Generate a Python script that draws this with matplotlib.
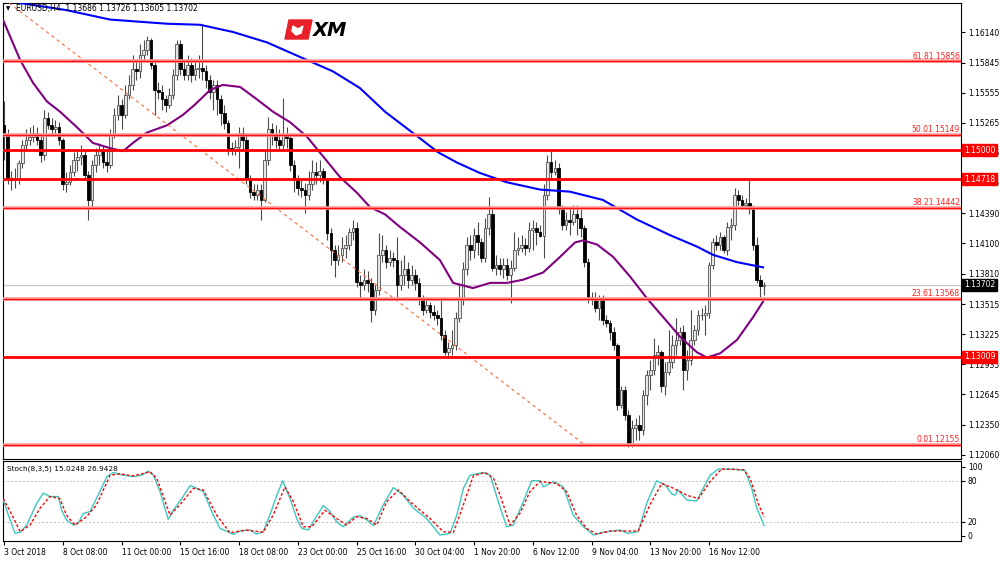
import numpy as np
import matplotlib.pyplot as plt
import matplotlib.transforms as mtransforms
from matplotlib.patches import Polygon

plt.rcParams['font.family'] = 'DejaVu Sans'
plt.rcParams['font.size'] = 5.5

# EURUSD H4 candles (bar index 0 = 3 Oct 2018 16:00)
open_first = 1.1524
closes = [
    1.1515, 1.1473, 1.1471, 1.1473, 1.1488, 1.1505, 1.1510, 1.1513, 1.1517, 1.1510,
    1.1495, 1.1531, 1.1524, 1.1520, 1.1522, 1.1510, 1.1467, 1.1469, 1.1479, 1.1491,
    1.1493, 1.1495, 1.1476, 1.1452, 1.1486, 1.1495, 1.1500, 1.1489, 1.1486, 1.1515,
    1.1534, 1.1544, 1.1534, 1.1553, 1.1563, 1.1578, 1.1576, 1.1592, 1.1597, 1.1606,
    1.1582, 1.1558, 1.1556, 1.1549, 1.1544, 1.1553, 1.1573, 1.1602, 1.1578, 1.1573,
    1.1582, 1.1573, 1.1578, 1.1579, 1.1576, 1.1568, 1.1556, 1.1563, 1.1549, 1.1536,
    1.1526, 1.1502, 1.1500, 1.1503, 1.1517, 1.1510, 1.1473, 1.1460, 1.1457, 1.1462,
    1.1452, 1.1491, 1.1520, 1.1515, 1.1510, 1.1505, 1.1515, 1.1512, 1.1486, 1.1471,
    1.1464, 1.1462, 1.1457, 1.1467, 1.1479, 1.1476, 1.1480, 1.1471, 1.1420, 1.1404,
    1.1394, 1.1399, 1.1406, 1.1409, 1.1421, 1.1425, 1.1373, 1.1370, 1.1375, 1.1372,
    1.1346, 1.1365, 1.1399, 1.1404, 1.1392, 1.1396, 1.1394, 1.1370, 1.1380, 1.1385,
    1.1375, 1.1380, 1.1372, 1.1356, 1.1346, 1.1351, 1.1344, 1.1341, 1.1338, 1.1322,
    1.1305, 1.1309, 1.1312, 1.1338, 1.1356, 1.1385, 1.1409, 1.1404, 1.1418, 1.1411,
    1.1396, 1.1425, 1.1438, 1.1386, 1.1389, 1.1385, 1.1389, 1.1380, 1.1386, 1.1404,
    1.1406, 1.1409, 1.1406, 1.1423, 1.1425, 1.1421, 1.1417, 1.1457, 1.1489, 1.1479,
    1.1483, 1.1443, 1.1428, 1.1433, 1.1431, 1.1438, 1.1435, 1.1425, 1.1392, 1.1358,
    1.1357, 1.1348, 1.1356, 1.1336, 1.1333, 1.1325, 1.1312, 1.1254, 1.1269, 1.1245,
    1.1216, 1.1232, 1.1235, 1.1230, 1.1264, 1.1283, 1.1288, 1.1302, 1.1305, 1.1273,
    1.1286, 1.1296, 1.1312, 1.1317, 1.1325, 1.1288, 1.1298, 1.1317, 1.1327, 1.1341,
    1.1341, 1.1343, 1.1389, 1.1411, 1.1409, 1.1416, 1.1404, 1.1426, 1.1428, 1.1457,
    1.1452, 1.1447, 1.1449, 1.1443, 1.1409, 1.1375, 1.13686, 1.13702,
]
highs = [
    1.1547, 1.1520, 1.1480, 1.1483, 1.1491, 1.1510, 1.1520, 1.1522, 1.1524, 1.1522,
    1.1514, 1.1539, 1.1537, 1.1531, 1.1529, 1.1527, 1.1512, 1.1479, 1.1486, 1.1498,
    1.1500, 1.1505, 1.1500, 1.1480, 1.1491, 1.1502, 1.1507, 1.1505, 1.1500, 1.1520,
    1.1541, 1.1553, 1.1549, 1.1563, 1.1573, 1.1592, 1.1587, 1.1602, 1.1606, 1.1610,
    1.1608, 1.1587, 1.1566, 1.1563, 1.1553, 1.1560, 1.1578, 1.1606, 1.1606, 1.1587,
    1.1592, 1.1589, 1.1587, 1.1592, 1.1621, 1.1582, 1.1573, 1.1568, 1.1568, 1.1553,
    1.1544, 1.1529, 1.1508, 1.1510, 1.1522, 1.1522, 1.1515, 1.1476, 1.1467, 1.1467,
    1.1467, 1.1500, 1.1532, 1.1526, 1.1524, 1.1520, 1.1550, 1.1522, 1.1517, 1.1491,
    1.1476, 1.1471, 1.1468, 1.1480, 1.1491, 1.1489, 1.1491, 1.1483, 1.1473, 1.1425,
    1.1409, 1.1409, 1.1416, 1.1418, 1.1425, 1.1433, 1.1431, 1.1380, 1.1385, 1.1383,
    1.1377, 1.1370, 1.1420, 1.1418, 1.1409, 1.1404, 1.1402, 1.1416, 1.1394, 1.1399,
    1.1392, 1.1389, 1.1385, 1.1377, 1.1360, 1.1356, 1.1354, 1.1351, 1.1346, 1.1356,
    1.1327, 1.1315, 1.1327, 1.1344, 1.1370, 1.1392, 1.1416, 1.1418, 1.1425, 1.1431,
    1.1415, 1.1435, 1.1455, 1.1443, 1.1399, 1.1396, 1.1396, 1.1396, 1.1394, 1.1421,
    1.1416, 1.1418, 1.1415, 1.1431, 1.1433, 1.1431, 1.1428, 1.1467, 1.1495, 1.1500,
    1.1491, 1.1488, 1.1447, 1.1440, 1.1443, 1.1447, 1.1447, 1.1443, 1.1428, 1.1396,
    1.1363, 1.1363, 1.1360, 1.1360, 1.1341, 1.1336, 1.1329, 1.1314, 1.1273, 1.1273,
    1.1249, 1.1240, 1.1242, 1.1245, 1.1269, 1.1288, 1.1298, 1.1319, 1.1312, 1.1307,
    1.1296, 1.1327, 1.1322, 1.1338, 1.1329, 1.1331, 1.1307, 1.1346, 1.1331, 1.1346,
    1.1348, 1.1351, 1.1392, 1.1415, 1.1418, 1.1421, 1.1418, 1.1431, 1.1435, 1.1464,
    1.1462, 1.1457, 1.1454, 1.1471, 1.1447, 1.1416, 1.1380, 1.13726,
]
lows = [
    1.1491, 1.1467, 1.1462, 1.1464, 1.1467, 1.1483, 1.1500, 1.1505, 1.1508, 1.1505,
    1.1489, 1.1491, 1.1520, 1.1514, 1.1515, 1.1505, 1.1462, 1.1460, 1.1466, 1.1475,
    1.1480, 1.1486, 1.1471, 1.1433, 1.1445, 1.1479, 1.1486, 1.1483, 1.1479, 1.1483,
    1.1512, 1.1529, 1.1520, 1.1531, 1.1549, 1.1558, 1.1568, 1.1570, 1.1587, 1.1592,
    1.1578, 1.1534, 1.1549, 1.1539, 1.1537, 1.1541, 1.1549, 1.1568, 1.1573, 1.1568,
    1.1568, 1.1566, 1.1568, 1.1570, 1.1568, 1.1560, 1.1549, 1.1539, 1.1534, 1.1524,
    1.1520, 1.1495, 1.1495, 1.1495, 1.1483, 1.1500, 1.1467, 1.1454, 1.1452, 1.1452,
    1.1433, 1.1450, 1.1486, 1.1505, 1.1502, 1.1500, 1.1500, 1.1502, 1.1480, 1.1460,
    1.1457, 1.1455, 1.1439, 1.1452, 1.1462, 1.1467, 1.1469, 1.1467, 1.1413, 1.1389,
    1.1378, 1.1389, 1.1392, 1.1396, 1.1404, 1.1413, 1.1368, 1.1356, 1.1365, 1.1363,
    1.1334, 1.1341, 1.1360, 1.1392, 1.1386, 1.1388, 1.1387, 1.1358, 1.1365, 1.1370,
    1.1367, 1.1370, 1.1365, 1.1351, 1.1341, 1.1343, 1.1338, 1.1336, 1.1331, 1.1317,
    1.1302, 1.1300, 1.1302, 1.1307, 1.1334, 1.1351, 1.1380, 1.1394, 1.1396, 1.1399,
    1.1392, 1.1392, 1.1418, 1.1383, 1.1380, 1.1380, 1.1377, 1.1375, 1.1353, 1.1383,
    1.1399, 1.1402, 1.1399, 1.1402, 1.1404, 1.1409, 1.1416, 1.1396, 1.1452, 1.1473,
    1.1476, 1.1438, 1.1423, 1.1423, 1.1418, 1.1428, 1.1418, 1.1416, 1.1387, 1.1353,
    1.1351, 1.1344, 1.1336, 1.1331, 1.1329, 1.1317, 1.1307, 1.1249, 1.1251, 1.1240,
    1.1214, 1.1214, 1.1220, 1.1220, 1.1225, 1.1254, 1.1269, 1.1283, 1.1293, 1.1267,
    1.1264, 1.1283, 1.1290, 1.1302, 1.1312, 1.1269, 1.1278, 1.1293, 1.1312, 1.1322,
    1.1336, 1.1322, 1.1338, 1.1385, 1.1404, 1.1404, 1.1401, 1.1399, 1.1413, 1.1423,
    1.1447, 1.1443, 1.1443, 1.1438, 1.1404, 1.1372, 1.1358, 1.13605,
]

# moving averages (bar index, price)
ma_slow_bar = [4.4, 17.2, 28.9, 44.4, 53.4, 62.4, 71.6, 82.5, 89.6, 96.9, 103.8, 113.8, 118.2,
               123.4, 129.6, 137, 146, 154.1, 163.1, 172.4, 181.4, 188.7, 193.1, 199.6, 206.7]
ma_slow = [1.1642, 1.1635, 1.1626, 1.1622, 1.1621, 1.1614, 1.1604, 1.1587, 1.1576, 1.1560, 1.1537,
           1.1510, 1.1498, 1.1488, 1.1478, 1.1469, 1.1462, 1.1460, 1.1452, 1.1433, 1.1418, 1.1407,
           1.1399, 1.1392, 1.1387]
ma_fast_bar = [-0.3, 4.4, 7.9, 11.7, 15.3, 19.9, 24.2, 28.9, 32.4, 35.1, 38.9, 44.4, 48.7, 52, 56.1,
               59.6, 64.3, 68.9, 73.3, 77.9, 82.5, 86.9, 91.5, 96.1, 99.7, 103.8, 107.8, 113.3, 118.7,
               122.3, 127.7, 132.4, 137, 141.3, 146.8, 151.4, 155.5, 157.7, 161.5, 165.9, 170.5,
               175.1, 179.5, 184.1, 188.7, 191.4, 195, 199.6, 204, 206.7]
ma_fast = [1.1626, 1.1587, 1.1565, 1.1547, 1.1537, 1.1522, 1.1507, 1.1502, 1.1499, 1.1507, 1.1517,
           1.1524, 1.1534, 1.1544, 1.1558, 1.1563, 1.1561, 1.1549, 1.1537, 1.1527, 1.1513, 1.1494,
           1.1474, 1.1459, 1.1445, 1.1438, 1.1426, 1.1411, 1.1394, 1.1372, 1.1367, 1.1372, 1.1372,
           1.1375, 1.1382, 1.1397, 1.1411, 1.1413, 1.1409, 1.1397, 1.1378, 1.1357, 1.1339, 1.1320,
           1.1305, 1.1300, 1.1304, 1.1317, 1.1339, 1.1354]

# Fibonacci retracement (0% -> 100%) and drawn levels
fib_start_bar, fib_start_price = -62.0, 1.18144
fib_end_bar, fib_end_price = 158.2, 1.12155
fib_levels = [1.15856, 1.15149, 1.14442, 1.13568, 1.12155]
fib_labels = ['61.81.15856', '50.01.15149', '38.21.14442', '23.61.13568', '0.01.12155']
hlines = [1.15000, 1.14718, 1.13009]
last_price = 1.13702

price_ticks = [1.16140, 1.15845, 1.15555, 1.15265, 1.14975, 1.14685, 1.14390, 1.14100,
               1.13810, 1.13515, 1.13225, 1.12935, 1.12645, 1.12350, 1.12060]

# Stochastic (8,3,5)
k_bar = [-0.2, 1.2, 3, 4.4, 6.2, 8.9, 10.7, 12.5, 14.8, 15.7, 17, 18.9, 20.2, 21.6, 23.4, 26.1, 28,
         29.8, 32.5, 35.2, 37.5, 39.3, 40.7, 42.5, 44.7, 46.1, 48.4, 50.7, 52.5, 54.3, 57, 58.8,
         62.4, 64.3, 67, 68.8, 70.6, 72.4, 74.3, 75.9, 77.9, 79.7, 81.1, 82.9, 84.7, 87, 88.8,
         90.6, 92.4, 95.1, 97, 98.8, 100.6, 103.3, 106, 108.7, 111.5, 115.1, 118.7, 121.5, 123.3,
         125.1, 126.9, 130.5, 132.4, 135.1, 136.9, 138.7, 141.4, 143.7, 146, 146.9, 149.6, 152.3,
         155, 157.8, 160.5, 163.2, 167.8, 170, 172.7, 175, 177.7, 180, 181.8, 182.7, 183.6, 185.9,
         188.6, 190.4, 192.3, 194.5, 198.6, 201.8, 203.6, 205, 207]
k_val = [52, 30, 3.4, 5, 15.5, 47, 62, 57, 57, 37, 23, 15.5, 18, 32.5, 35, 64, 86, 92, 88, 86, 88,
         94, 88, 64, 24, 37, 54, 73, 69, 64, 30, 10.7, 2, 6.8, 8.3, 2.4, 5.8, 30, 59, 80, 54, 25,
         10.7, 8.3, 25, 44, 35, 20, 13, 27, 29, 23, 14.6, 45, 70, 59, 40, 25, 1, 3.4, 30, 69, 88,
         92, 88, 41, 13, 15.5, 49.5, 80, 80, 71, 79, 71, 30, 13, 1, 5, 8.3, 3.4, 5.8, 47, 80, 74,
         61, 59, 66.5, 52, 50.5, 69, 88, 97, 97, 95, 69, 40, 15]
d_bar = [-0.2, 2.2, 4.4, 7.1, 9.8, 12.5, 15.2, 17, 19.3, 22.5, 25.2, 28.9, 31.6, 35.2, 39.8, 41.6,
         45.2, 47.9, 51.6, 54.3, 57.9, 61.5, 66.1, 70.6, 73.3, 76.5, 78.8, 81.5, 83.8, 87.4, 90.6,
         93.3, 96, 98.8, 101.5, 104.2, 107.4, 110.6, 116, 119.6, 122.4, 125.1, 127.8, 131, 133.3,
         135.1, 137.8, 140.5, 143.2, 146, 150.5, 153.2, 155.9, 158.6, 161.4, 165, 169.5, 172.7,
         175.9, 179.1, 182.3, 185.9, 189.1, 192.3, 195.4, 201.4, 203.2, 205.5, 207]
d_val = [54, 30, 5.8, 15.5, 40, 57, 54, 30, 15.5, 27.7, 45, 88, 90, 87, 93, 83.5, 30, 45, 69, 66.5,
         30, 4.4, 8.3, 5, 30, 71, 49.5, 13, 13, 37, 25, 15.5, 27.7, 25, 15.5, 49.5, 66.5, 49.5, 25,
         5.8, 5, 45, 87, 92, 83.5, 59, 15.5, 32.5, 64, 79, 76, 64, 30, 10.7, 2.4, 6.8, 6.8, 6.8,
         45, 76, 69, 59, 54, 79, 97, 96, 83.5, 45, 27]

date_bars = [0, 16, 32, 48, 64, 80, 96, 112, 128, 144, 160, 176, 192]
date_labels = ['3 Oct 2018', '8 Oct 08:00', '11 Oct 00:00', '15 Oct 16:00', '18 Oct 08:00',
               '23 Oct 00:00', '25 Oct 16:00', '30 Oct 04:00', '1 Nov 20:00', '6 Nov 12:00',
               '9 Nov 04:00', '13 Nov 20:00', '16 Nov 12:00']

W, H = 1000, 561
fig = plt.figure(figsize=(10, 5.61), dpi=100)
ax = fig.add_axes([3 / W, 1 - 459 / H, 958 / W, 456 / H])
ax2 = fig.add_axes([3 / W, 1 - 541 / H, 958 / W, 80 / H])

xlim = (-0.27, 260.6)
ax.set_xlim(*xlim)
ax.set_ylim(1.12021, 1.16420)

# candles
o = np.array([open_first] + closes[:-1])
c = np.array(closes)
idx = np.arange(len(c))
up = c >= o
ax.vlines(idx, lows, highs, color='#4a4a4a', lw=0.8, zorder=3)
ax.bar(idx[up], (c - o)[up], bottom=o[up], width=0.72, color='#E6E6E6',
       edgecolor='#505050', lw=0.6, zorder=4)
ax.bar(idx[~up], (o - c)[~up], bottom=c[~up], width=0.72, color='black',
       edgecolor='black', lw=0.6, zorder=4)

# moving averages
ax.plot(ma_slow_bar, ma_slow, color='#0000FF', lw=1.5, zorder=5)
ax.plot(ma_fast_bar, ma_fast, color='#800080', lw=1.5, zorder=5)

# last price line
ax.axhline(last_price, color='#C8C8C8', lw=0.9, zorder=2)

# fib trend line
ax.plot([fib_start_bar, fib_end_bar], [fib_start_price, fib_end_price], color='#FF6A3D',
        lw=0.8, dashes=(3, 3), zorder=6)

blend = mtransforms.blended_transform_factory(ax.transAxes, ax.transData)
for lvl, lab in zip(fib_levels, fib_labels):
    ax.axhline(lvl, color='#FF9A9A', lw=2.6, zorder=6)
    ax.axhline(lvl, color='#FF1010', lw=1.0, zorder=6)
    ax.text(0.999, lvl + 0.00006, lab, transform=blend, ha='right', va='bottom',
            color='#FF2020', fontsize=5.5, zorder=7)
for lvl in hlines:
    ax.axhline(lvl, color='#FF0000', lw=2.0, zorder=6)
    ax.text(1 + 3 / 958, lvl, f'{lvl:.5f}', transform=blend, ha='left', va='center',
            color='white', fontsize=5.5, zorder=10, clip_on=False,
            bbox=dict(boxstyle='square,pad=0.2', facecolor='#FF0000', edgecolor='#FF0000'))
ax.text(1 + 3 / 958, last_price, f'{last_price:.5f}', transform=blend, ha='left', va='center',
        color='white', fontsize=5.5, zorder=10, clip_on=False,
        bbox=dict(boxstyle='square,pad=0.2', facecolor='black', edgecolor='black'))

ax.yaxis.tick_right()
ax.set_yticks(price_ticks)
ax.set_yticklabels([f'{t:.5f}' for t in price_ticks])
ax.tick_params(axis='y', length=3, width=0.8, pad=2, labelsize=5.5)
ax.set_xticks([])
for s in ax.spines.values():
    s.set_linewidth(0.8)
    s.set_color('black')

# stochastic panel
ax2.set_xlim(*xlim)
ax2.set_ylim(-7.7, 108.7)
for lvl in (20, 80):
    ax2.axhline(lvl, color='#C0C0C0', lw=0.7, dashes=(2, 2), zorder=1)
ax2.plot(k_bar, k_val, color='#3CC8C0', lw=1.0, zorder=3)
ax2.plot(d_bar, d_val, color='#FF0000', lw=1.0, dashes=(2, 1.5), zorder=4)
ax2.yaxis.tick_right()
ax2.set_yticks([0, 20, 80, 100])
ax2.set_yticklabels(['0', '20', '80', '100'])
ax2.tick_params(axis='y', length=3, width=0.8, pad=2, labelsize=5.5)
ax2.set_xticks(date_bars)
ax2.set_xticklabels(date_labels)
ax2.tick_params(axis='x', length=3, width=0.8, pad=2, labelsize=5.5)
for lab in ax2.get_xticklabels():
    lab.set_ha('left')
for s in ax2.spines.values():
    s.set_linewidth(0.8)
    s.set_color('black')

# header texts
fig.text(6 / W, 1 - 9 / H, '\u25bc', fontsize=4, va='center')
fig.text(16 / W, 1 - 9 / H, 'EURUSD,H4  1.13686 1.13726 1.13605 1.13702', fontsize=5.5, va='center')
fig.text(7 / W, 1 - 469 / H, 'Stoch(8,3,5) 15.0248 26.9428', fontsize=5.3, va='center')

# XM logo
lax = fig.add_axes([284 / W, 1 - 46 / H, 80 / W, 32 / H])
lax.set_xlim(0, 80)
lax.set_ylim(32, 0)
lax.axis('off')
lax.add_patch(Polygon([(5, 6), (28, 6), (24, 25), (1, 25)], closed=True, color='#E8202A'))
lax.add_patch(Polygon([(9, 12), (14, 15), (19, 12), (17, 19), (12, 21), (8, 17)], closed=True,
                      color='white'))
lax.text(29, 16, 'XM', fontsize=14, fontweight='bold', fontstyle='italic', va='center',
         ha='left', color='black')

fig.savefig('out.png', dpi=100, facecolor='white')
